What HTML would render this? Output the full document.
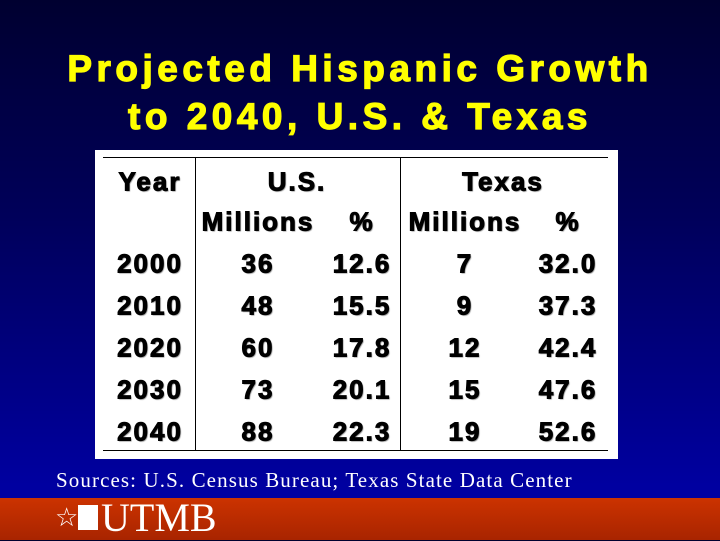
<!DOCTYPE html>
<html><head><meta charset="utf-8"><style>
body{margin:0;width:720px;height:540px;overflow:hidden;position:relative;
background:linear-gradient(#000030 0%,#00005a 40%,#0000a0 90%);font-family:"Liberation Sans",sans-serif}
.t{position:absolute;left:0;width:720px;text-align:center;color:#ffff00;font-weight:bold;font-size:37px;letter-spacing:4.5px;-webkit-text-stroke:1.2px #ffff00}
#tbl{position:absolute;left:95px;top:150px;width:523px;height:309px;background:#fff}
.c{position:absolute;transform:translate(-50%,-50%);font-weight:bold;font-size:26px;letter-spacing:2px;color:#000;-webkit-text-stroke:1px #000;text-shadow:1px 1px 1px #888;white-space:nowrap}
.h{position:absolute;background:#000}
#band{position:absolute;left:0;top:498px;width:720px;height:42px;background:linear-gradient(#cc3300,#a82400)}
</style></head><body>
<div class="t" style="top:48px">Projected Hispanic Growth</div>
<div class="t" style="top:96px">to 2040, U.S. &amp; Texas</div>
<div id="tbl"></div>
<div style="position:absolute;left:56px;top:468px;color:#fff;font-family:'Liberation Serif',serif;font-size:21px;letter-spacing:1.1px">Sources: U.S. Census Bureau; Texas State Data Center</div>
<div id="band">
<div style="position:absolute;left:55px;top:4px;color:#fff;font-size:26px">☆</div>
<div style="position:absolute;left:78px;top:7px;width:20px;height:25px;background:#fff"></div>
<div style="position:absolute;left:101px;top:-4px;color:#fff;font-family:'Liberation Serif',serif;font-size:40px">UTMB</div>
</div>
<script>
const years=["2000","2010","2020","2030","2040"];
const usMillions=["36","48","60","73","88"];
const usPct=["12.6","15.5","17.8","20.1","22.3"];
const txMillions=["7","9","12","15","19"];
const txPct=["32.0","37.3","42.4","47.6","52.6"];
const t=document.getElementById('tbl');
function line(x,y,w,h,n){const d=document.createElement('div');d.className='h';
d.style.cssText+=`left:${x}px;top:${y}px;width:${w}px;height:${h}px`;


t.appendChild(d);}
line(8,7,505,1,'top-rule');line(8,300,505,1,'bottom-rule');
line(100,7,1,293,'us-divider');line(305,7,1,293,'texas-divider');
function cell(x,y,s,n){const d=document.createElement('div');d.className='c';
d.style.left=(x-95)+'px';d.style.top=(y-150)+'px';d.textContent=s;


t.appendChild(d);}
cell(150,182,'Year','year-header');cell(297,182,'U.S.','us-header');cell(503,182,'Texas','texas-header');
cell(258,222,'Millions','us-millions-header');cell(362,222,'%','us-pct-header');
cell(465,222,'Millions','tx-millions-header');cell(568,222,'%','tx-pct-header');
years.forEach((y,i)=>{const yy=264+i*42;
cell(150,yy,y,'year-cell');cell(258,yy,usMillions[i],'us-millions-cell');
cell(362,yy,usPct[i],'us-pct-cell');cell(465,yy,txMillions[i],'tx-millions-cell');
cell(568,yy,txPct[i],'tx-pct-cell');});
</script>
</body></html>
